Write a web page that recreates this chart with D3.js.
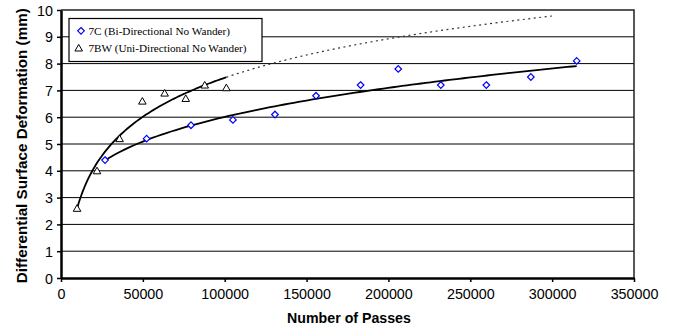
<!DOCTYPE html>
<html>
<head>
<meta charset="utf-8">
<script src="https://cdn.jsdelivr.net/npm/d3@7"></script>
<style>
  body { margin: 0; background: #fff; }
  svg { display: block; }
  .tick text { font-family: "Liberation Sans", Arial, sans-serif; font-size: 14.3px; fill: #000; }
</style>
</head>
<body>
<svg id="chart" width="673" height="326"></svg>
<script>
"use strict";

// ==========================
// data
// ==========================
var passes7C = [26900, 52300, 79400, 105000, 130700, 155800, 183000, 206000, 232000, 259800, 287000, 315000];
var defo7C   = [4.4, 5.2, 5.7, 5.9, 6.1, 6.8, 7.2, 7.8, 7.2, 7.2, 7.5, 8.1];

var passes7BW = [9800, 22000, 35800, 49700, 63300, 76200, 87800, 101000];
var defo7BW   = [2.6, 4.0, 5.2, 6.6, 6.9, 6.7, 7.2, 7.1];

var xTicks = [0, 50000, 100000, 150000, 200000, 250000, 300000, 350000];
var yTicks = [0, 1, 2, 3, 4, 5, 6, 7, 8, 9, 10];

var label7C = "7C (Bi-Directional No Wander)",
    label7BW = "7BW (Uni-Directional No Wander)";

var forecastTo = 300000;

// ==========================
// trendlines (least squares, like the spreadsheet)
// ==========================
function fitLine(xs, ys) {
  var mx = d3.mean(xs), my = d3.mean(ys);
  var sxy = d3.sum(xs, function (x, i) { return (x - mx) * (ys[i] - my); });
  var sxx = d3.sum(xs, function (x) { return (x - mx) * (x - mx); });
  var a = sxy / sxx;
  return { a: a, b: my - a * mx };
}
// power fit for 7C: ln y = p ln x + c
var pw = fitLine(passes7C.map(Math.log), defo7C.map(Math.log));
function power7C(x) { return Math.exp(pw.b) * Math.pow(x, pw.a); }
// log fit for 7BW: y = a ln x + b
var lg = fitLine(passes7BW.map(Math.log), defo7BW);
function log7BW(x) { return lg.a * Math.log(x) + lg.b; }

function sample(f, x0, x1, n) {
  return d3.range(n + 1).map(function (i) {
    var x = x0 + (x1 - x0) * i / n;
    return [x, f(x)];
  });
}

// ==========================
// chart
// ==========================
var svg = d3.select("#chart"),
    margin = { top: 10, right: 39, bottom: 48, left: 61 },
    width = +svg.attr("width") - margin.left - margin.right,
    height = +svg.attr("height") - margin.top - margin.bottom,
    g = svg.append("g").attr("transform", "translate(" + margin.left + "," + margin.top + ")");

var x = d3.scaleLinear().domain([0, 350000]).range([0, width]),
    y = d3.scaleLinear().domain([0, 10]).range([height, 0]);

// gridlines
g.append("g").selectAll("line").data(yTicks.slice(1, -1)).enter().append("line")
  .attr("x1", 0).attr("x2", width)
  .attr("y1", function (d) { return y(d); }).attr("y2", function (d) { return y(d); })
  .attr("stroke", "#000").attr("stroke-width", 1);

// plot border (top + right)
g.append("path").attr("d", "M0," + y(10) + "H" + width + "V" + height)
  .attr("fill", "none").attr("stroke", "#222").attr("stroke-width", 1.5);

// axes
var xAxis = g.append("g").attr("transform", "translate(0," + height + ")")
  .call(d3.axisBottom(x).tickValues(xTicks).tickFormat(d3.format("d")).tickSizeInner(4).tickSizeOuter(0).tickPadding(7));
var yAxis = g.append("g")
  .call(d3.axisLeft(y).tickValues(yTicks).tickSizeInner(4).tickSizeOuter(0).tickPadding(4));
xAxis.select(".domain").attr("stroke-width", 2.5);
yAxis.select(".domain").attr("stroke-width", 2.5);
xAxis.selectAll(".tick line").attr("stroke-width", 1.5);
yAxis.selectAll(".tick line").attr("stroke-width", 1.5);
yAxis.selectAll(".tick text").attr("dy", "0.36em");

var line = d3.line().x(function (d) { return x(d[0]); }).y(function (d) { return y(d[1]); }).curve(d3.curveLinear);

var x0BW = d3.min(passes7BW), x1BW = d3.max(passes7BW);
// dotted forecast for 7BW
g.append("path").datum(sample(log7BW, x1BW, forecastTo, 60)).attr("d", line)
  .attr("fill", "none").attr("stroke", "#333").attr("stroke-width", 1.2).attr("stroke-dasharray", "2,3.5");
// solid trendlines
g.append("path").datum(sample(log7BW, x0BW, x1BW, 80)).attr("d", line)
  .attr("fill", "none").attr("stroke", "#000").attr("stroke-width", 1.8);
g.append("path").datum(sample(power7C, d3.min(passes7C), d3.max(passes7C), 100)).attr("d", line)
  .attr("fill", "none").attr("stroke", "#000").attr("stroke-width", 1.8);

// markers
var diamond = "M0,-3.3L3.3,0L0,3.3L-3.3,0Z",
    triangle = "M0,-3.6L3.8,3L-3.8,3Z";

g.append("g").selectAll("path").data(passes7C).enter().append("path")
  .attr("d", diamond)
  .attr("transform", function (d, i) { return "translate(" + x(d) + "," + y(defo7C[i]) + ")"; })
  .attr("fill", "#fff").attr("stroke", "#0000ff").attr("stroke-width", 1.2);

g.append("g").selectAll("path").data(passes7BW).enter().append("path")
  .attr("d", triangle)
  .attr("transform", function (d, i) { return "translate(" + x(d) + "," + y(defo7BW[i]) + ")"; })
  .attr("fill", "#fff").attr("stroke", "#000").attr("stroke-width", 1);

// legend
var lg2 = svg.append("g").attr("transform", "translate(69,18.5)");
lg2.append("rect").attr("width", 193).attr("height", 43)
  .attr("fill", "#fff").attr("stroke", "#000").attr("stroke-width", 1.2);
lg2.append("path").attr("d", diamond).attr("transform", "translate(12,12.3)")
  .attr("fill", "#fff").attr("stroke", "#0000ff").attr("stroke-width", 1.2);
lg2.append("path").attr("d", triangle).attr("transform", "translate(9.7,29.5)")
  .attr("fill", "#fff").attr("stroke", "#000").attr("stroke-width", 1);
lg2.selectAll("text").data([label7C, label7BW]).enter().append("text")
  .attr("x", 19.5).attr("y", function (d, i) { return 16.3 + i * 17; })
  .attr("font-family", "'Liberation Serif', 'Times New Roman', serif").attr("font-size", 11.2)
  .text(function (d) { return d; });

// axis titles
svg.append("text").attr("x", 349).attr("y", 322.5)
  .attr("text-anchor", "middle")
  .attr("font-family", "'Liberation Sans', Arial, sans-serif").attr("font-weight", "bold").attr("font-size", 14.2)
  .text("Number of Passes");
svg.append("text").attr("transform", "translate(26.5,145.7) rotate(-90)")
  .attr("text-anchor", "middle")
  .attr("font-family", "'Liberation Sans', Arial, sans-serif").attr("font-weight", "bold").attr("font-size", 15)
  .attr("textLength", 275).attr("lengthAdjust", "spacingAndGlyphs")
  .text("Differential Surface Deformation (mm)");
</script>
</body>
</html>
